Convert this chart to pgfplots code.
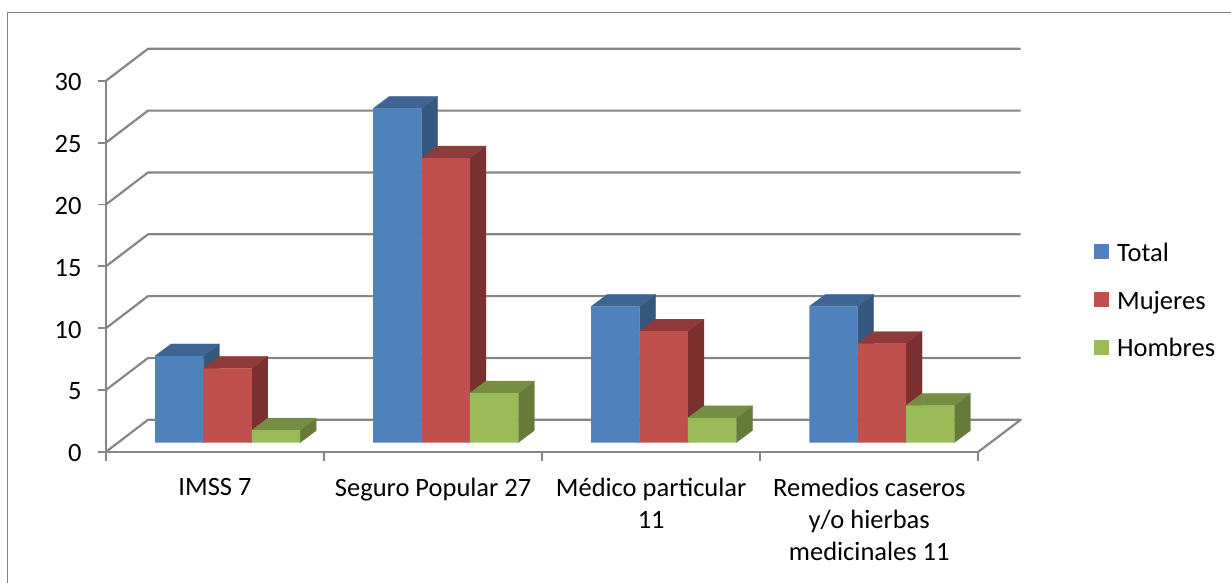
\documentclass[border=0pt]{standalone}
\usepackage{pgfplots}
\usepackage{pgfplotstable}
\usepackage{fontspec}
\setmainfont{Carlito}
\pgfplotsset{compat=1.18}

\definecolor{wallgray}{HTML}{868686}
\definecolor{cTotal}{HTML}{4F81BD}
\definecolor{cTotalSide}{HTML}{35587F}
\definecolor{cTotalTop}{HTML}{3D6493}
\definecolor{cMuj}{HTML}{C0504D}
\definecolor{cMujSide}{HTML}{7A302E}
\definecolor{cMujTop}{HTML}{8F3B39}
\definecolor{cHom}{HTML}{9BBB59}
\definecolor{cHomSide}{HTML}{667A3A}
\definecolor{cHomTop}{HTML}{758E43}

\pgfplotstableread{
pos total mujeres hombres
0   7     6       1
1   27    23      4
2   11    9       2
3   11    8       3
}\datatab

% side and top face of one bar: category, value, bar shift (pt), side colour, top colour
% 218.07pt = one category, 16pt / 12pt = depth of a bar (12pt = 0.97 units of y)
\newcommand{\prism}[5]{%
  \pgfmathsetmacro\xl{#1+(#3-24.2)/218.07}%
  \pgfmathsetmacro\xr{#1+(#3+24.2)/218.07}%
  \pgfmathsetmacro\xlb{\xl+16/218.07}%
  \pgfmathsetmacro\xrb{\xr+16/218.07}%
  \pgfmathsetmacro\yb{#2+0.97}%
  \addplot[forget plot,yshift=9.3pt,fill=#4,draw=#4,line width=.3pt] coordinates {(\xr,0) (\xrb,0.97) (\xrb,\yb) (\xr,#2)} --cycle;
  \addplot[forget plot,yshift=9.3pt,fill=#5,draw=#5,line width=.3pt] coordinates {(\xl,#2) (\xlb,\yb) (\xrb,\yb) (\xr,#2)} --cycle;
}

\pgfplotsset{wall/.style={forget plot,wallgray,line width=2.2pt,line join=round}}

\begin{document}
\begin{tikzpicture}
\path[use as bounding box] (-106pt,-131.2pt) rectangle (1125pt,451.8pt);
\draw[wallgray,line width=1.5pt] (-98.5pt,-132pt) -- (-98.5pt,439.3pt) -- (1125pt,439.3pt);
\begin{axis}[
  scale only axis,
  width=872.3pt, height=371pt,
  xmin=-0.5, xmax=3.5, ymin=0, ymax=30,
  clip=false,
  axis x line*=bottom, axis y line*=left,
  axis line style={-,wallgray,line width=2.2pt},
  tick align=outside,
  tick style={wallgray,line width=1.8pt},
  major tick length=8pt, minor tick length=9pt,
  ytick={0,5,10,15,20,25,30},
  xtick={0,1,2,3},
  xticklabels={IMSS 7,Seguro Popular 27,{Médico particular\\11},{Remedios caseros\\y/o hierbas\\medicinales 11}},
  minor xtick={-0.5,0.5,1.5,2.5,3.5},
  major x tick style={draw=none},
  /pgf/number format/assume math mode=true,
  tick label style={font=\fontsize{26.5}{32}\selectfont,black},
  xticklabel style={align=center,anchor=north,yshift=-14.5pt},
  yticklabel style={xshift=-13pt,yshift=-1.5pt},
  legend style={draw=none,fill=none,at={(axis description cs:1.1325,0.569)},anchor=north west,
    font=\fontsize{26.5}{32}\selectfont,row sep=24pt,inner sep=0pt},
  legend cell align=left,
  legend image code/.code={\fill[#1] (0pt,-15.5pt) rectangle (15pt,-0.5pt); \path (21pt,-8pt);},
]
% walls and floor
\addplot[wall] coordinates {(-0.5,5) (-0.3074,7.588) (3.6945,7.588)};
\addplot[wall] coordinates {(-0.5,10) (-0.3074,12.588) (3.6945,12.588)};
\addplot[wall] coordinates {(-0.5,15) (-0.3074,17.588) (3.6945,17.588)};
\addplot[wall] coordinates {(-0.5,20) (-0.3074,22.588) (3.6945,22.588)};
\addplot[wall] coordinates {(-0.5,25) (-0.3074,27.588) (3.6945,27.588)};
\addplot[wall] coordinates {(-0.5,30) (-0.3074,32.588) (3.6945,32.588)};
\addplot[wall] coordinates {(-0.5,0) (-0.3074,2.588) (3.6945,2.588) (3.5,0)};

\prism{0}{7}{-35.8}{cTotalSide}{cTotalTop}
\prism{1}{27}{-35.8}{cTotalSide}{cTotalTop}
\prism{2}{11}{-35.8}{cTotalSide}{cTotalTop}
\prism{3}{11}{-35.8}{cTotalSide}{cTotalTop}
\addplot[ybar,bar width=48.4pt,bar shift=-35.8pt,yshift=9.3pt,fill=cTotal,draw=none] table[x=pos,y=total] {\datatab};
\addlegendentry{Total}

\prism{0}{6}{12.6}{cMujSide}{cMujTop}
\prism{1}{23}{12.6}{cMujSide}{cMujTop}
\prism{2}{9}{12.6}{cMujSide}{cMujTop}
\prism{3}{8}{12.6}{cMujSide}{cMujTop}
\addplot[ybar,bar width=48.4pt,bar shift=12.6pt,yshift=9.3pt,fill=cMuj,draw=none] table[x=pos,y=mujeres] {\datatab};
\addlegendentry{Mujeres}

\prism{0}{1}{61}{cHomSide}{cHomTop}
\prism{1}{4}{61}{cHomSide}{cHomTop}
\prism{2}{2}{61}{cHomSide}{cHomTop}
\prism{3}{3}{61}{cHomSide}{cHomTop}
\addplot[ybar,bar width=48.4pt,bar shift=61pt,yshift=9.3pt,fill=cHom,draw=none] table[x=pos,y=hombres] {\datatab};
\addlegendentry{Hombres}
\end{axis}
\end{tikzpicture}
\end{document}
